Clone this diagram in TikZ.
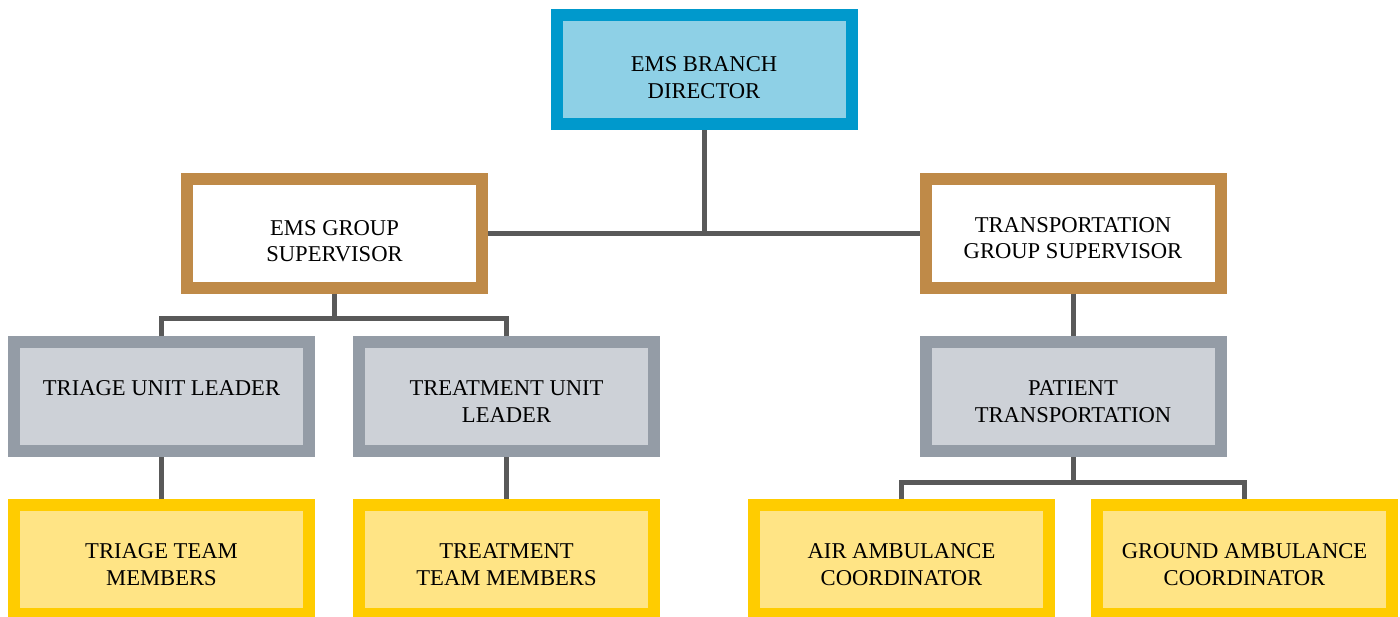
\documentclass[tikz,border=0pt]{standalone}
\usepackage{fontspec}
\setmainfont{Liberation Serif}
\usetikzlibrary{positioning}

\definecolor{dirblue}{HTML}{0099CC}
\definecolor{dirfill}{HTML}{8ED0E6}
\definecolor{grpbrown}{HTML}{BF8A48}
\definecolor{unitgray}{HTML}{949CA6}
\definecolor{unitfill}{HTML}{CDD1D7}
\definecolor{teamgold}{HTML}{FFCC00}
\definecolor{teamfill}{HTML}{FFE485}
\definecolor{linkgray}{HTML}{595959}

\begin{document}
\begin{tikzpicture}[x=0.5pt, y=-0.5pt,
  drop/.style={execute at begin node={\rule{0pt}{#1}}},
  box/.style={
    draw,
    line width=6pt,
    align=center,
    font=\fontsize{11.3}{13.4}\selectfont,
    minimum width=147.5pt,
    minimum height=54.5pt,
    inner sep=2pt
  },
  director/.style={box, draw=dirblue, fill=dirfill, drop=29pt},
  group/.style={box, draw=grpbrown, fill=white},
  unit/.style={box, draw=unitgray, fill=unitfill},
  team/.style={box, draw=teamgold, fill=teamfill, drop=26pt},
  conn/.style={draw=linkgray, line width=2.5pt}
]
\useasboundingbox (0,0) rectangle (1400,616);

\node[director] (dir) at (704,69.5) {EMS BRANCH\\DIRECTOR};

\node[group, drop=29pt] (emsgrp) at (334.5,233) {EMS GROUP\\SUPERVISOR};
\node[group, drop=26pt] (trngrp) at (1073,233) {TRANSPORTATION\\GROUP SUPERVISOR};

\node[unit, drop=26pt] (triul) at (161.5,396.5) {TRIAGE UNIT LEADER\\\mbox{}};
\node[unit, drop=26pt] (treul) at (506.5,396.5) {TREATMENT UNIT\\LEADER};
\node[unit, drop=26pt] (patnt) at (1073,396.5) {PATIENT\\TRANSPORTATION};

\node[team] (tritm) at (161.5,559.5) {TRIAGE TEAM\\MEMBERS};
\node[team] (tretm) at (506.5,559.5) {TREATMENT\\TEAM MEMBERS};
\node[team] (airamb) at (901.5,559.5) {AIR AMBULANCE\\COORDINATOR};
\node[team] (gndamb) at (1244.5,559.5) {GROUND AMBULANCE\\COORDINATOR};

% bus points
\coordinate (emsbus) at (334.5,318);
\coordinate (patbus) at (1073,482);

\draw[conn] (dir.south) -- (dir.south |- emsgrp.east);
\draw[conn] (emsgrp.east) -- (trngrp.west);
\draw[conn] (emsgrp.south) -- (emsbus);
\draw[conn] (triul.north) |- (emsbus) -| (treul.north);
\draw[conn] (trngrp.south) -- (patnt.north);
\draw[conn] (triul.south) -- (tritm.north);
\draw[conn] (treul.south) -- (tretm.north);
\draw[conn] (patnt.south) -- (patbus);
\draw[conn] (airamb.north) |- (patbus) -| (gndamb.north);
\end{tikzpicture}
\end{document}
